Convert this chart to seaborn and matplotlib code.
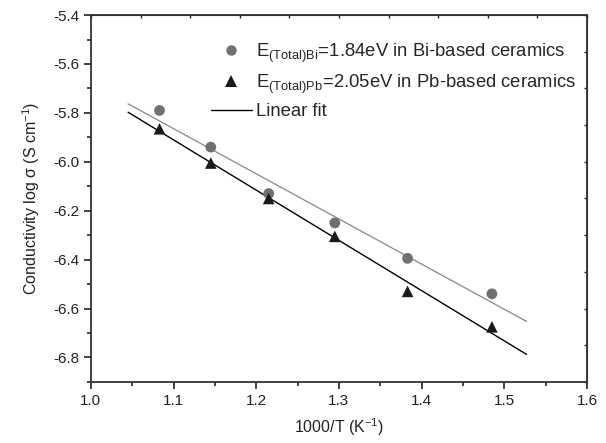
import numpy as np
import pandas as pd
import matplotlib
matplotlib.use("Agg")
import matplotlib.pyplot as plt
from matplotlib.lines import Line2D
import seaborn as sns

# data
inv_t = [1.083, 1.145, 1.215, 1.295, 1.383, 1.485]
log_sigma_bi = [-5.79, -5.94, -6.13, -6.25, -6.395, -6.54]
log_sigma_pb = [-5.865, -6.005, -6.15, -6.305, -6.53, -6.675]
fit_range = [1.045, 1.527]

label_bi = r"E$_{\mathrm{(Total)Bi}}$=1.84eV in Bi-based ceramics"
label_pb = r"E$_{\mathrm{(Total)Pb}}$=2.05eV in Pb-based ceramics"

sns.set_style("ticks")
plt.rcParams['font.family'] = ['Liberation Sans', 'DejaVu Sans']
plt.rcParams['mathtext.fontset'] = 'custom'
plt.rcParams['mathtext.rm'] = 'Liberation Sans'
plt.rcParams['mathtext.it'] = 'Liberation Sans:italic'

df = pd.DataFrame({'x': inv_t, 'bi': log_sigma_bi, 'pb': log_sigma_pb})

# linear fits
xf = np.linspace(fit_range[0], fit_range[1], 2)
fit_bi = np.polyval(np.polyfit(df['x'], df['bi'], 1), xf)
fit_pb = np.polyval(np.polyfit(df['x'], df['pb'], 1), xf)

fig = plt.figure(figsize=(6.06, 4.43), dpi=100)
ax = fig.add_axes([0.150, 0.138, 0.8186, 0.828])

sns.lineplot(x=xf, y=fit_bi, ax=ax, color='#888888', lw=0.9)
sns.lineplot(x=xf, y=fit_pb, ax=ax, color='black', lw=1.0)
sns.scatterplot(data=df, x='x', y='bi', ax=ax, color='#707070', marker='o',
                s=60, edgecolor='none', zorder=3)
sns.scatterplot(data=df, x='x', y='pb', ax=ax, color='#1a1a1a', marker='^',
                s=70, edgecolor='none', zorder=3)

ax.set_xlim(1.0, 1.6)
ax.set_ylim(-6.9, -5.4)
ax.set_xticks(np.arange(1.0, 1.61, 0.1))
ax.set_xticks(np.arange(1.05, 1.6, 0.1), minor=True)
ax.set_yticks(np.arange(-6.8, -5.39, 0.2))
ax.set_yticks(np.arange(-6.9, -5.4, 0.2), minor=True)
ax.xaxis.set_major_formatter(matplotlib.ticker.FormatStrFormatter('%.1f'))
ax.yaxis.set_major_formatter(matplotlib.ticker.FormatStrFormatter('%.1f'))
ax.tick_params(which='major', direction='out', length=5, width=1.2, labelsize=11, colors='#222222')
ax.tick_params(which='minor', direction='out', length=3, width=1.2)
for s in ax.spines.values():
    s.set_linewidth(1.3)
    s.set_color('#333333')

# tiny mirrored ticks on top and right
top = ax.secondary_xaxis('top')
top.set_xticks(np.linspace(1.0, 1.6, 11))
top.tick_params(direction='in', length=2, width=1, labeltop=False)
right = ax.secondary_yaxis('right')
right.set_yticks(np.linspace(-6.9, -5.4, 11))
right.tick_params(direction='in', length=2, width=1, labelright=False)

ax.set_xlabel(r"1000/T (K$^{\mathrm{-1}}$)", fontsize=11.5, color='#222222', labelpad=6)
ax.set_ylabel(r"Conductivity log $\mathrm{\sigma}$ (S cm$^{\mathrm{-1}}$)", fontsize=11.5,
              color='#222222', labelpad=8)

handles = [
    Line2D([], [], color='#707070', marker='o', ls='none', markersize=7.5, markeredgewidth=0),
    Line2D([], [], color='#1a1a1a', marker='^', ls='none', markersize=8, markeredgewidth=0),
    Line2D([], [], color='black', lw=1.0),
]
ax.legend(handles, [label_bi, label_pb, 'Linear fit'], loc='upper left',
          bbox_to_anchor=(0.242, 0.928), frameon=False, fontsize=13.3,
          handlelength=2.2, handletextpad=0.25, labelspacing=0.42,
          borderpad=0, borderaxespad=0)

fig.savefig('out.png', dpi=100)
